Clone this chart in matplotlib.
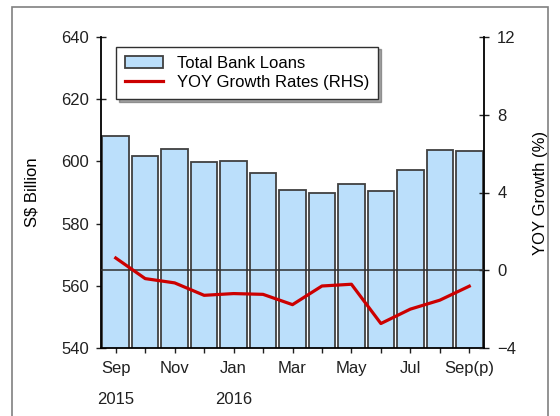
import numpy as np
import matplotlib
matplotlib.use("Agg")
import matplotlib.pyplot as plt
from matplotlib.patches import Rectangle

plt.rcParams['font.family'] = ['Liberation Sans', 'DejaVu Sans']

# data
months = ["Sep", "Oct", "Nov", "Dec", "Jan", "Feb", "Mar", "Apr", "May", "Jun", "Jul", "Aug", "Sep(p)"]
loans = [608.2, 601.7, 603.9, 599.7, 600.1, 596.2, 590.8, 589.8, 592.8, 590.4, 597.2, 603.8, 603.3]
yoy = [0.63, -0.43, -0.65, -1.29, -1.2, -1.24, -1.77, -0.81, -0.72, -2.74, -2.0, -1.54, -0.82]
tick_labels = ["Sep\n\n2015", "", "Nov", "", "Jan\n\n2016", "", "Mar", "", "May", "", "Jul", "", "Sep(p)"]

x = np.arange(len(months))

fig = plt.figure(figsize=(5.6, 4.16), dpi=100)
# grey outer frame
fig.patches.append(Rectangle((12/560, -0.1), 536/560, 1.1 - 7/416, transform=fig.transFigure,
                             fill=False, edgecolor="#808080", linewidth=1.2))
ax = fig.add_axes([101/560, 1 - 348/416, 383/560, 311/416])
ax2 = ax.twinx()

ax.bar(x, loans, width=0.9, color="#BBDFFB", edgecolor="#404040", linewidth=1.3,
       label="Total Bank Loans", zorder=2)
ax.set_ylim(540, 640)
ax.set_xlim(-0.5, 12.5)
ax.set_yticks([540, 560, 580, 600, 620, 640])
ax.set_xticks(x)
ax.set_xticklabels(tick_labels, va="top", linespacing=1.05)
ax.set_ylabel("S$ Billion", fontsize=12, labelpad=16)

ax2.axhline(0, color="#303030", linewidth=1.3, alpha=0.85, zorder=3)
ax2.plot(x, yoy, color="#CC0000", linewidth=2.3, label="YOY Growth Rates (RHS)", zorder=4)
ax2.set_ylim(-4, 12)
ax2.set_yticks([-4, 0, 4, 8, 12])
ax2.set_ylabel("YOY Growth (%)", fontsize=12, labelpad=12)

for a in (ax, ax2):
    a.tick_params(direction="inout", length=7, width=1, labelsize=12, colors="#202020")
    for s in a.spines.values():
        s.set_visible(False)
ax.tick_params(axis="x", pad=6)
ax.tick_params(axis="y", pad=5)
ax2.tick_params(axis="y", pad=6)
ax.spines["left"].set_visible(True)
ax.spines["bottom"].set_visible(True)
ax2.spines["right"].set_visible(True)
for s in ("left", "bottom"):
    ax.spines[s].set_linewidth(1.3)
ax2.spines["right"].set_linewidth(1.3)

h1, l1 = ax.get_legend_handles_labels()
h2, l2 = ax2.get_legend_handles_labels()
leg = ax2.legend(h1 + h2, l1 + l2, loc="upper left", bbox_to_anchor=(0.03, 0.98),
                 fontsize=12, frameon=True, fancybox=False, shadow=True,
                 edgecolor="#303030", borderpad=0.55, handlelength=2.3, labelspacing=0.25,
                 borderaxespad=0.2)
leg.get_frame().set_linewidth(1)

fig.savefig("out.png", dpi=100)
